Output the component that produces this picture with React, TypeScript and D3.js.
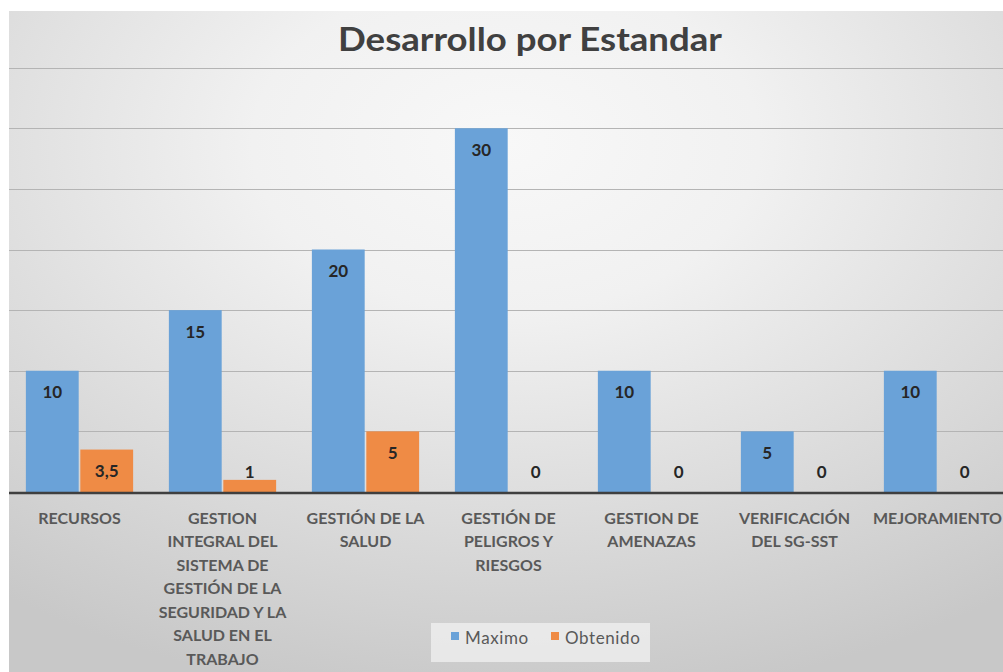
import React from "react";
import * as d3 from "d3";

const categories: string[] = [
  "RECURSOS",
  "GESTION\nINTEGRAL DEL\nSISTEMA DE\nGESTIÓN DE LA\nSEGURIDAD Y LA\nSALUD EN EL\nTRABAJO",
  "GESTIÓN DE LA\nSALUD",
  "GESTIÓN DE\nPELIGROS Y\nRIESGOS",
  "GESTION DE\nAMENAZAS",
  "VERIFICACIÓN\nDEL SG-SST",
  "MEJORAMIENTO",
];
const seriesNames: string[] = ["Maximo", "Obtenido"];
const maximo: number[] = [10, 15, 20, 30, 10, 5, 10];
const obtenido: number[] = [3.5, 1, 5, 0, 0, 0, 0];
const gridTicks: number[] = [0, 5, 10, 15, 20, 25, 30, 35, 40];
const colors: string[] = ["#6aa2d8", "#ef8b45"];
const title = "Desarrollo por Estandar";

const W = 1003;
const H = 672;
const FONT = "Lato, 'Open Sans', sans-serif";

export default function App() {
  const x = d3
    .scaleBand<string>()
    .domain(categories)
    .range([8, 1009])
    .paddingInner(0.25)
    .paddingOuter(0.125);
  const xs = d3
    .scaleBand<string>()
    .domain(seriesNames)
    .range([0, x.bandwidth()])
    .paddingInner(0.03);
  const y = d3.scaleLinear().domain([0, 40]).range([492, 7]);
  const values = [maximo, obtenido];
  const fmt = (v: number) => String(v).replace(".", ",");

  return (
    <svg
      width={W}
      height={H}
      style={{ position: "absolute", left: 0, top: 0, display: "block" }}
    >
      <defs>
        <radialGradient id="bg" cx="50%" cy="20%" r="85%">
          <stop offset="0" stopColor="#f8f8f8" />
          <stop offset="0.3" stopColor="#f1f1f1" />
          <stop offset="1" stopColor="#c8c8c8" />
        </radialGradient>
        <clipPath id="clip">
          <rect x={9} y={11} width={W - 9} height={H - 11} />
        </clipPath>
      </defs>
      <rect x={0} y={0} width={W} height={H} fill="#ffffff" />
      <g clipPath="url(#clip)">
        <rect x={9} y={11} width={W - 9} height={H - 11} fill="url(#bg)" />
        {gridTicks
          .filter((t) => t > 0)
          .map((t) => (
            <line
              key={t}
              x1={8}
              x2={1009}
              y1={Math.round(y(t)) + 0.5}
              y2={Math.round(y(t)) + 0.5}
              stroke="#b4b4b4"
              strokeWidth={1}
            />
          ))}
        {categories.map((c, i) =>
          seriesNames.map((s, j) => {
            const v = values[j][i];
            const bx = (x(c) as number) + (xs(s) as number);
            const top = y(v);
            return (
              <rect
                key={c + s}
                x={bx}
                y={top}
                width={xs.bandwidth()}
                height={y(0) - top}
                fill={colors[j]}
              />
            );
          })
        )}
        <line
          x1={8}
          x2={1009}
          y1={y(0) + 1}
          y2={y(0) + 1}
          stroke="#3f3f3f"
          strokeWidth={2.5}
        />
        {categories.map((c, i) =>
          seriesNames.map((s, j) => {
            const v = values[j][i];
            const cx = (x(c) as number) + (xs(s) as number) + xs.bandwidth() / 2;
            const cy = Math.min(y(v) + 21, y(0) - 21);
            return (
              <text
                key={"l" + c + s}
                x={cx}
                y={cy}
                textAnchor="middle"
                dominantBaseline="central"
                fontFamily={FONT}
                fontWeight="bold"
                fontSize={17}
                fill="#262626"
              >
                {fmt(v)}
              </text>
            );
          })
        )}
        {categories.map((c) => {
          const cx = (x(c) as number) + x.bandwidth() / 2;
          return (
            <text
              key={"c" + c}
              textAnchor="middle"
              fontFamily={FONT}
              fontWeight="bold"
              fontSize={16}
              fill="#595959"
            >
              {c.split("\n").map((line, k) => (
                <tspan
                  key={k}
                  x={cx}
                  y={517 + k * 23.5}
                  dominantBaseline="central"
                >
                  {line}
                </tspan>
              ))}
            </text>
          );
        })}
        <text
          x={530}
          y={38}
          textAnchor="middle"
          dominantBaseline="central"
          fontFamily={FONT}
          fontWeight="bold"
          fontSize={32}
          textLength={384}
          lengthAdjust="spacingAndGlyphs"
          fill="#404040"
        >
          {title}
        </text>
        <rect x={431} y={623} width={219} height={39} fill="#efefef" opacity={0.8} />
        {seriesNames.map((s, j) => {
          const lx = j === 0 ? 451 : 551;
          return (
            <g key={"lg" + s}>
              <rect x={lx} y={632} width={8} height={8} fill={colors[j]} />
              <text
                x={lx + 14}
                y={637}
                dominantBaseline="central"
                fontFamily={FONT}
                fontSize={17}
                letterSpacing={0.6}
                fill="#595959"
              >
                {s}
              </text>
            </g>
          );
        })}
      </g>
    </svg>
  );
}
